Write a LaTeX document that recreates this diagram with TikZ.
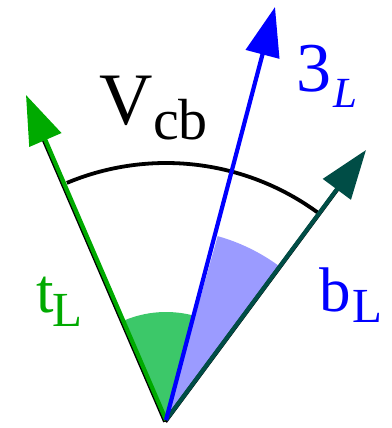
\documentclass[tikz,border=0pt]{standalone}
\usepackage{fontspec}
\setmainfont{Liberation Serif}
\usetikzlibrary{arrows.meta}
\definecolor{cgreen}{RGB}{0,170,0}
\definecolor{cteal}{RGB}{0,77,70}
\definecolor{cblue}{RGB}{0,0,255}
\definecolor{wgreen}{RGB}{60,200,105}
\definecolor{wblue}{RGB}{155,155,255}
\tikzset{
  vec/.style={line width=4.2pt, -{Triangle[length=49pt,width=34pt]}},
  shadowline/.style={line width=4.2pt, black, shorten >=40pt},
  lab/.style={inner sep=0pt, anchor=base west},
}
\begin{document}
\begin{tikzpicture}[x=1pt,y=1pt]
\useasboundingbox (0,0) rectangle (391,428);
\coordinate (O) at (166,8);
\coordinate (tG) at (26,333);
\coordinate (tB) at (275,421);
\coordinate (tT) at (366,278);
% wedges
\fill[wgreen] (O) -- ++(76:108) arc[start angle=76,end angle=112.3,radius=108] -- cycle;
\fill[wblue] (O) -- ++(54:191) arc[start angle=54,end angle=74.3,radius=191] -- cycle;
% shadows
\begin{scope}[transform canvas={xshift=-0.8pt,yshift=-1.6pt}]
\draw[shadowline] (O) -- (tG);
\draw[shadowline] (O) -- (tT);
\end{scope}
% arc
\draw[line width=3.8pt] (O) ++(112.7:257) arc[start angle=112.7,end angle=53.9,radius=257];
% vectors
\draw[vec, cgreen] (O) -- (tG);
\draw[vec, cteal] (O) -- (tT);
\draw[vec, cblue] (O) -- (tB);
% labels
\node[lab] (V) at (99,303) {\fontsize{74}{80}\selectfont V};
\node[lab] (cb) at (153,288) {\fontsize{58}{64}\selectfont cb};
\node[lab, text=cblue] (three) at (296,336) {\fontsize{70}{76}\selectfont 3};
\node[lab, text=cblue] (L3) at (333,320) {\fontsize{43}{48}\selectfont\itshape L};
\node[lab, text=cgreen] (t) at (36,115) {\fontsize{63}{68}\selectfont t};
\node[lab, text=cgreen] (Lt) at (52,101) {\fontsize{49}{54}\selectfont L};
\node[lab, text=cblue] (b) at (319,116) {\fontsize{63}{68}\selectfont b};
\node[lab, text=cblue] (Lb) at (352,105) {\fontsize{49}{54}\selectfont L};
\end{tikzpicture}
\end{document}
